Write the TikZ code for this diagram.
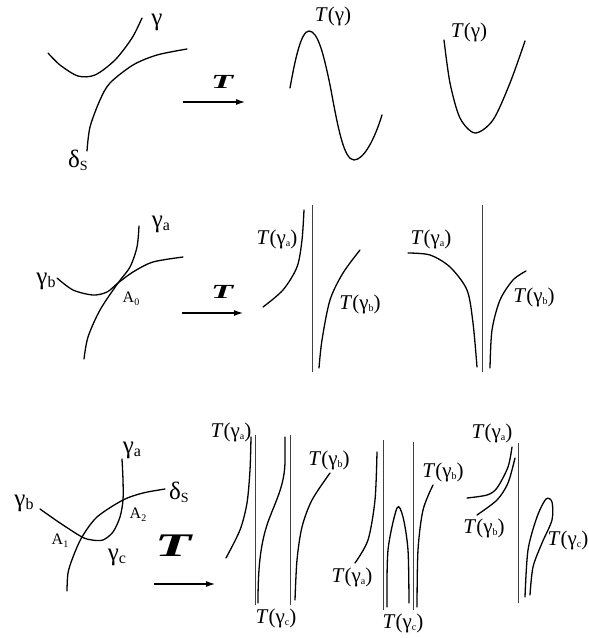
\documentclass[tikz,border=0pt]{standalone}
\usepackage{fontspec}
\setmainfont{Liberation Serif}
\usepackage{graphicx}
\usetikzlibrary{arrows.meta}
\newcommand{\tgsub}[1]{\textit{T}(γ\raisebox{-2pt}{\fontsize{10}{10}\selectfont #1})}
\newcommand{\tgg}{\textit{T}(γ)}
\newcommand{\gsub}[2]{#1\raisebox{-3pt}{\fontsize{16}{16}\selectfont #2}}
\newcommand{\bigT}[1]{\scalebox{1.8}[1]{\fontsize{#1}{#1}\selectfont\bfseries\itshape T}}
\tikzset{
  crv/.style={line width=1.3pt, line cap=round},
  asym/.style={line width=0.7pt, black!75},
  maparrow/.style={line width=1.1pt, -{Latex[length=9pt,width=6pt]}},
  lbl/.style={font=\fontsize{21}{21}\selectfont, inner sep=0pt},
  glbl/.style={font=\fontsize{25}{25}\selectfont, inner sep=0pt},
  albl/.style={font=\fontsize{16}{16}\selectfont, inner sep=0pt},
}
\begin{document}
\begin{tikzpicture}[x=1pt,y=-1pt]
\useasboundingbox (0,0) rectangle (589,638);
% ---------- Row 1 ----------
\draw[crv] plot[smooth] coordinates {(48,53) (60,65) (78,76) (95,75) (115,60) (132,38) (142,18)};
\draw[crv] plot[smooth] coordinates {(87,151) (90,127) (100,100) (110,83) (133,65) (157,55) (187,49)};
\node[glbl] (g1) at (157,22) {γ};
\node[glbl] (d1) at (78,160) {δ\raisebox{-3pt}{\fontsize{14}{14}\selectfont S}};
\coordinate (a1s) at (183,102); \coordinate (a1e) at (245,102);
\draw[maparrow] (a1s) -- (a1e);
\node[inner sep=0pt] (T1) at (222,82) {\bigT{20}};
\draw[crv] (290,88) .. controls (295,60) and (301,31) .. (309,31)
  .. controls (318,31) and (324,55) .. (331,90)
  .. controls (338,128) and (344,160) .. (354,160)
  .. controls (364,160) and (375,138) .. (382,115);
\node[lbl] (l1) at (333,16) {\tgg};
\draw[crv] plot[smooth] coordinates {(444,40) (450,83) (460,118) (475,133) (493,120) (510,83) (525,41)};
\node[lbl] (l2) at (469,32) {\tgg};
% ---------- Row 2 ----------
\draw[crv] plot[smooth] coordinates {(139,226) (137,247) (130,267) (118,283) (100,310) (88,337) (84,359)};
\draw[crv] plot[smooth] coordinates {(57,278) (73,290) (93,295) (107,292) (118,283) (133,272) (153,262) (183,257)};
\node[glbl] (ga2) at (161,224) {\gsub{γ}{a}};
\node[glbl] (gb2) at (46,281) {\gsub{γ}{b}};
\node[albl] (A0) at (131,299) {A\raisebox{-3pt}{\fontsize{10}{10}\selectfont 0}};
\coordinate (a2s) at (182,313); \coordinate (a2e) at (243,313);
\draw[maparrow] (a2s) -- (a2e);
\node[inner sep=0pt] (T2) at (222,292) {\bigT{20}};
\draw[crv] plot[smooth] coordinates {(263,307) (283,290) (297,267) (302,240) (304,210)};
\draw[asym] (312,205) -- (312,372);
\draw[crv] plot[smooth] coordinates {(319,368) (322,340) (330,300) (343,273) (360,250)};
\node[lbl] (l3) at (277,239) {\tgsub{a}};
\node[lbl] (l4) at (360,304) {\tgsub{b}};
\draw[crv] plot[smooth] coordinates {(408,253) (430,255) (450,267) (467,290) (473,323) (477,367)};
\draw[asym] (482,205) -- (482,372);
\draw[crv] plot[smooth] coordinates {(490,368) (492,330) (500,300) (513,280) (526,271)};
\node[lbl] (l5) at (431,239) {\tgsub{a}};
\node[lbl] (l6) at (534,297) {\tgsub{b}};
% ---------- Row 3 ----------
\draw[crv] plot[smooth] coordinates {(40,509) (60,523) (82,537) (92,540) (103,540) (113,532) (120,517) (123,500) (123,480) (122,459)};
\draw[crv] plot[smooth] coordinates {(67,591) (68,573) (73,557) (82,537) (97,517) (123,500) (143,493) (165,489)};
\node[glbl] (ga3) at (132,450) {\gsub{γ}{a}};
\node[glbl] (ds3) at (179,492) {δ\raisebox{-3pt}{\fontsize{14}{14}\selectfont S}};
\node[glbl] (gb3) at (24,503) {\gsub{γ}{b}};
\node[glbl] (gc3) at (117,557) {\gsub{γ}{c}};
\node[albl] (A2) at (138,515) {A\raisebox{-3pt}{\fontsize{10}{10}\selectfont 2}};
\node[albl] (A1) at (60,541) {A\raisebox{-3pt}{\fontsize{10}{10}\selectfont 1}};
\coordinate (a3s) at (154,584); \coordinate (a3e) at (215,584);
\draw[maparrow] (a3s) -- (a3e);
\node[inner sep=0pt] (T3) at (173,546) {\bigT{33}};
% middle group
\draw[crv] plot[smooth] coordinates {(226,558) (240,530) (247,503) (250,470) (251,437)};
\draw[asym] (255,435) -- (255,605);
\draw[crv] (258,603) .. controls (258,570) and (260,545) .. (268,522)
  .. controls (276,500) and (285,485) .. (285,460) -- (285,437);
\draw[asym] (290,435) -- (290,605);
\draw[crv] plot[smooth] coordinates {(295,600) (297,560) (302,527) (312,500) (330,473)};
\node[lbl] (l7) at (231,432) {\tgsub{a}};
\node[lbl] (l8) at (276,618) {\tgsub{c}};
\node[lbl] (l9) at (329,460) {\tgsub{b}};
\draw[crv] plot[smooth] coordinates {(355,563) (368,540) (375,500) (377,452)};
\draw[asym] (383,440) -- (383,610);
\draw[crv] plot[smooth] coordinates {(387,607) (388,550) (397,508) (403,517) (408,550) (409,603)};
\draw[asym] (413,442) -- (413,610);
\draw[crv] plot[smooth] coordinates {(417,607) (418,550) (423,510) (433,485)};
\node[lbl] (l10) at (352,577) {\tgsub{a}};
\node[lbl] (l11) at (443,472) {\tgsub{b}};
\node[lbl] (l12) at (403,623) {\tgsub{c}};
% right group
\draw[crv] plot[smooth] coordinates {(467,498) (487,495) (497,488) (508,467) (512,447)};
\draw[crv] plot[smooth] coordinates {(477,515) (497,500) (508,483) (515,458)};
\draw[asym] (518,443) -- (518,603);
\draw[crv] plot[smooth] coordinates {(525,597) (528,550) (537,517) (546,499) (552,502) (552,520) (542,543) (533,567) (530,595)};
\node[lbl] (l13) at (492,433) {\tgsub{a}};
\node[lbl] (l14) at (484,528) {\tgsub{b}};
\node[lbl] (l15) at (568,540) {\tgsub{c}};
\end{tikzpicture}
\end{document}
